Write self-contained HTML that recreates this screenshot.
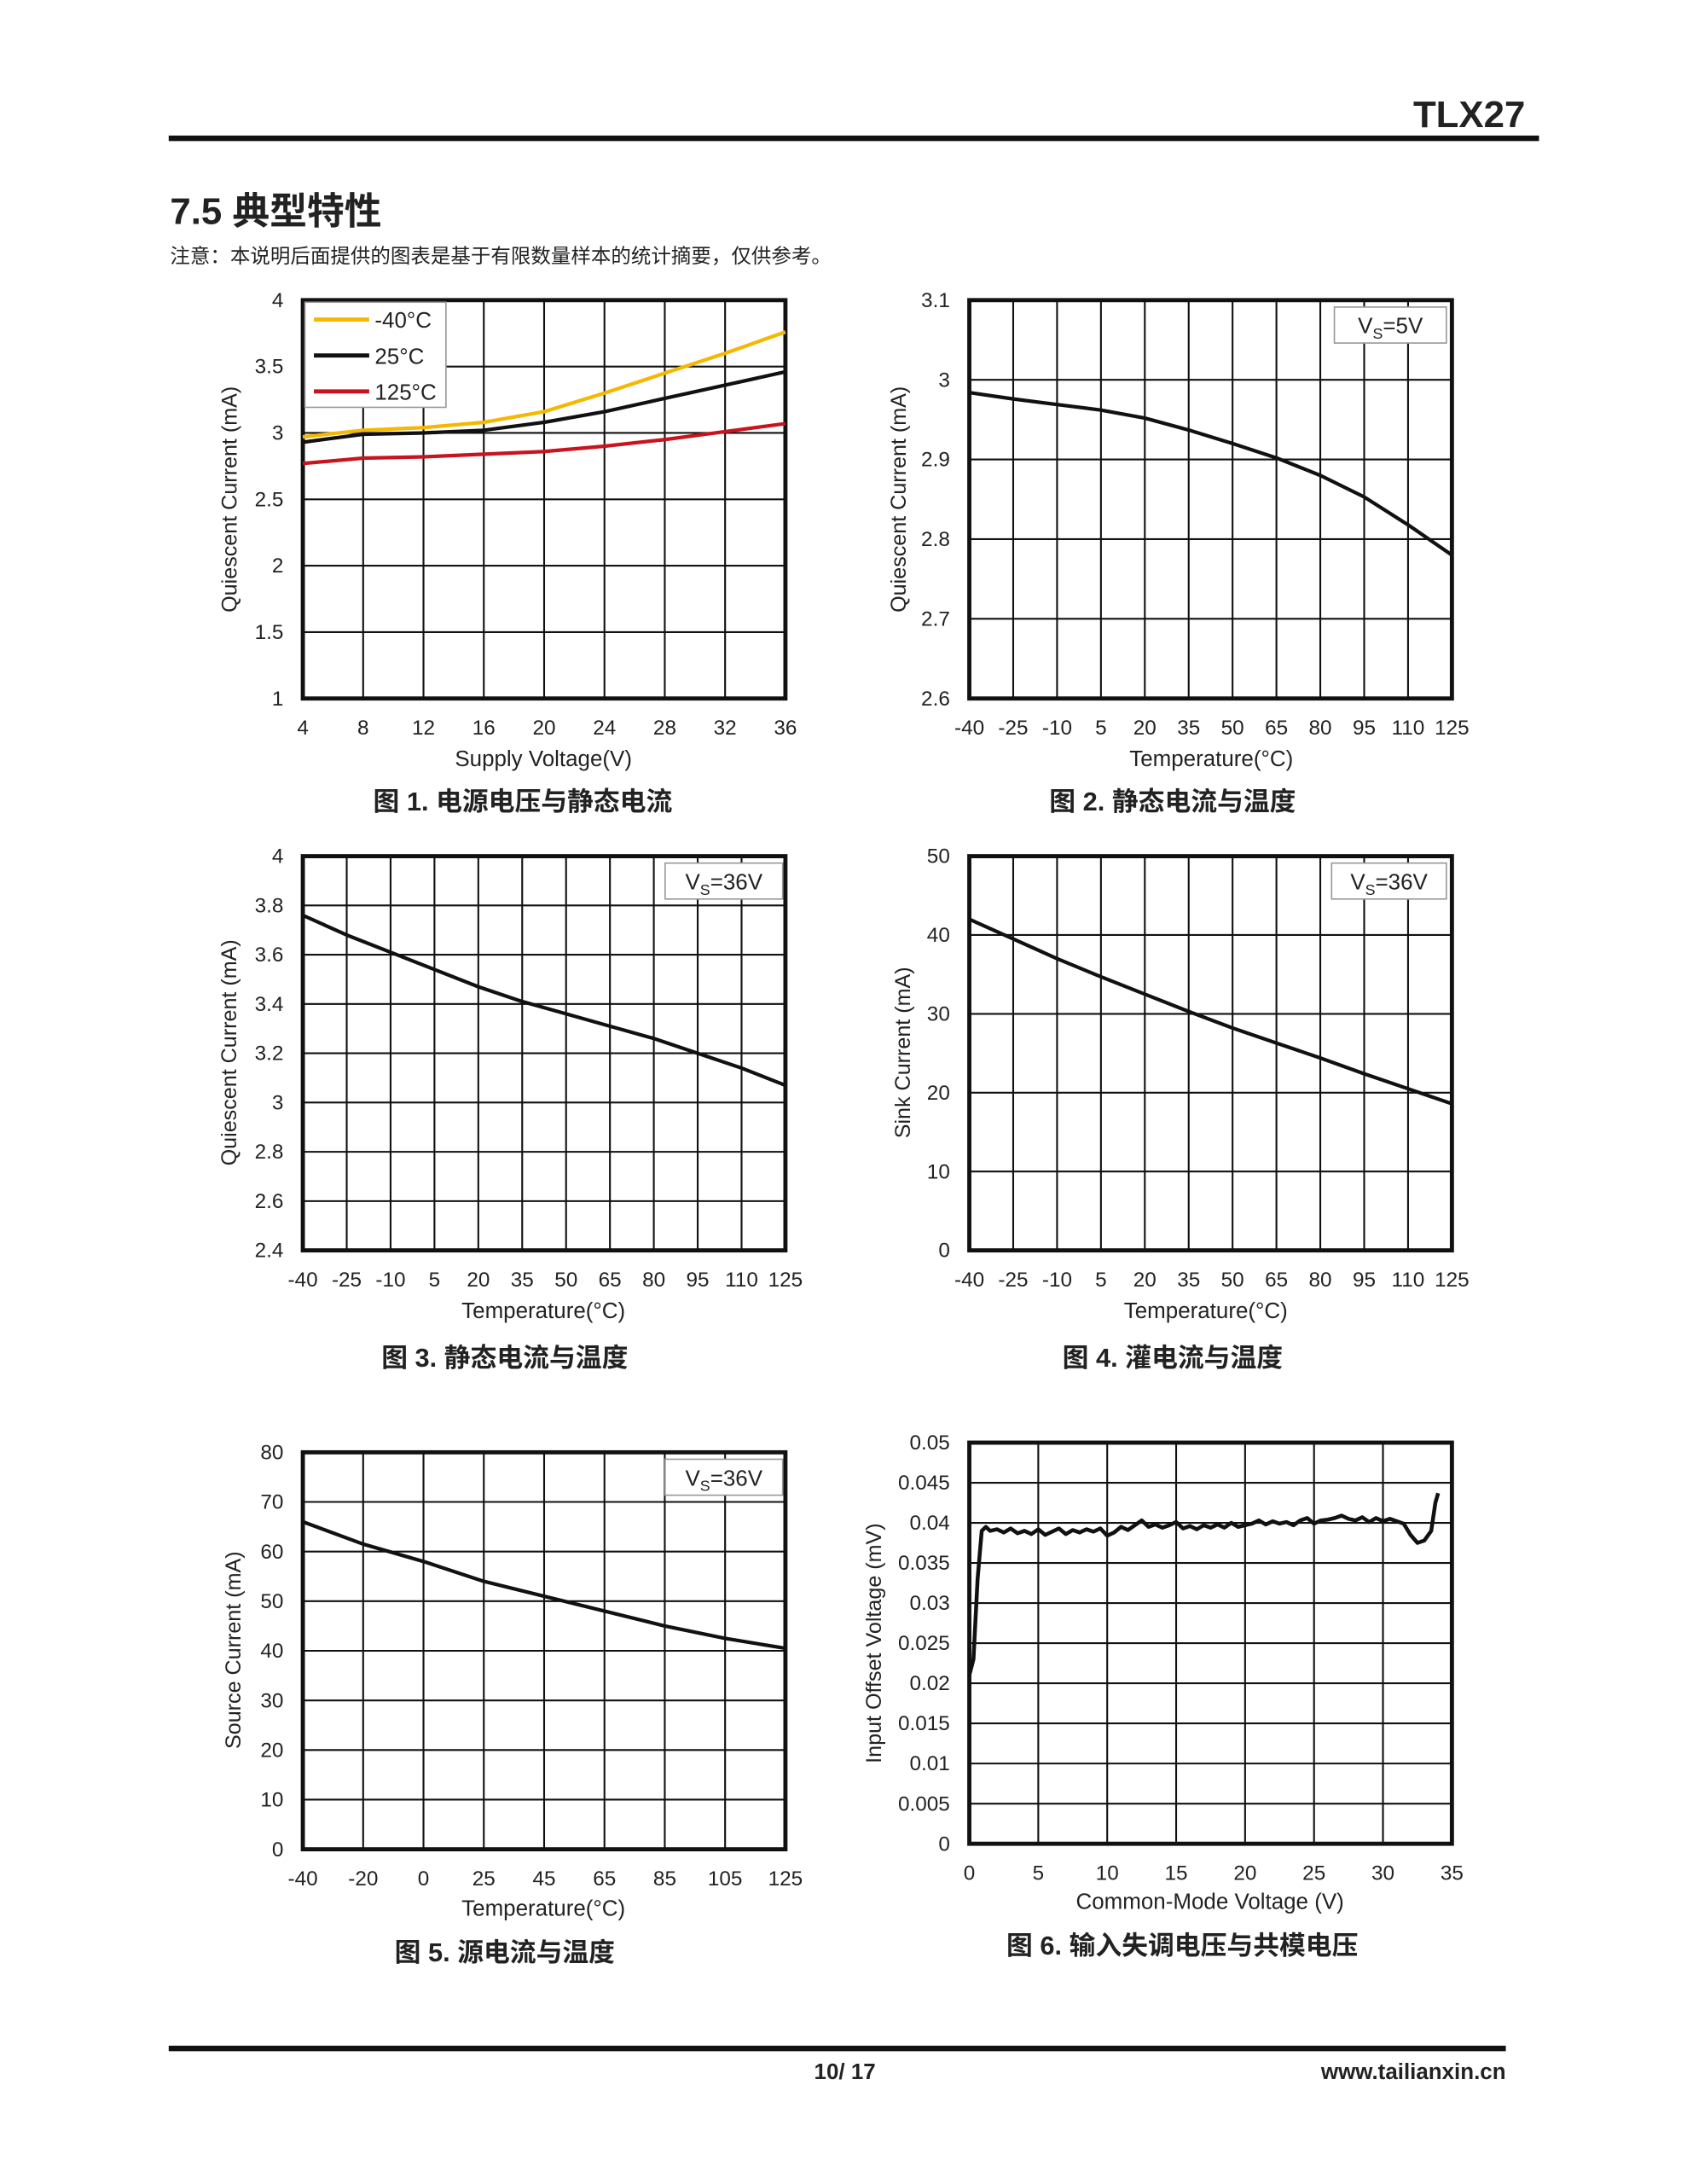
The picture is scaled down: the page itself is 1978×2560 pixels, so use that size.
<!DOCTYPE html>
<html><head><meta charset="utf-8"><style>
html,body{margin:0;padding:0;background:#fff;}
svg{display:block;}
text{font-family:"Liberation Sans","Noto Sans CJK SC",sans-serif;fill:#222;}
</style></head><body>
<svg id="page" xmlns="http://www.w3.org/2000/svg" width="1978" height="2560" viewBox="0 0 1220 1579">
<text x="1103" y="92" text-anchor="end" font-size="27" font-weight="bold" fill="#111">TLX27</text>
<rect x="122" y="98" width="991" height="4" fill="#111"/>
<text x="123" y="162" font-size="27" font-weight="bold" fill="#111">7.5 典型特性</text>
<text x="123" y="190" font-size="14.5" fill="#333">注意：本说明后面提供的图表是基于有限数量样本的统计摘要，仅供参考。</text>
<g id="charts"></g>
<rect x="122" y="1479" width="967" height="4" fill="#111"/>
<text x="611" y="1503" text-anchor="middle" font-size="16" font-weight="bold" fill="#111">10/ 17</text>
<text x="1089" y="1503" text-anchor="end" font-size="16" font-weight="bold" fill="#111">www.tailianxin.cn</text>
</svg>
<script>
// Chart 1
const c1X=[4,8,12,16,20,24,28,32,36];
const c1Neg40=[2.97,3.02,3.04,3.08,3.16,3.30,3.45,3.60,3.76];
const c1T25=[2.93,2.99,3.00,3.02,3.08,3.16,3.26,3.36,3.46];
const c1T125=[2.77,2.81,2.82,2.84,2.86,2.90,2.95,3.01,3.07];
const c1YTicks=[1,1.5,2,2.5,3,3.5,4];
// temperature axis shared
const tempX=[-40,-25,-10,5,20,35,50,65,80,95,110,125];
// Chart 2
const c2Y=[2.984,2.976,2.969,2.962,2.952,2.937,2.920,2.902,2.880,2.853,2.818,2.780];
const c2YTicks=["2.6","2.7","2.8","2.9","3","3.1"];
// Chart 3
const c3Y=[3.76,3.68,3.61,3.54,3.47,3.41,3.36,3.31,3.26,3.20,3.14,3.07];
const c3YTicks=["2.4","2.6","2.8","3","3.2","3.4","3.6","3.8","4"];
// Chart 4
const c4Y=[42,39.5,37,34.7,32.5,30.3,28.2,26.3,24.4,22.4,20.5,18.6];
const c4YTicks=["0","10","20","30","40","50"];
// Chart 5
const c5XLabels=["-40","-20","0","25","45","65","85","105","125"];
const c5Y=[66,61.5,58,54,51,48,45,42.5,40.5];
const c5YTicks=["0","10","20","30","40","50","60","70","80"];
// Chart 6
const c6X=[0,0.3,0.6,0.9,1.2,1.5,2,2.5,3,3.5,4,4.5,5,5.5,6,6.5,7,7.5,8,8.5,9,9.5,10,10.5,11,11.5,12,12.5,13,13.5,14,14.5,15,15.5,16,16.5,17,17.5,18,18.5,19,19.5,20,20.5,21,21.5,22,22.5,23,23.5,24,24.5,25,25.5,26,26.5,27,27.5,28,28.5,29,29.5,30,30.5,31,31.5,32,32.5,33,33.5,33.8,34];
const c6Y=[0.021,0.023,0.033,0.039,0.0395,0.039,0.0392,0.0388,0.0393,0.0387,0.039,0.0386,0.0392,0.0385,0.0389,0.0393,0.0386,0.0391,0.0388,0.0392,0.0389,0.0393,0.0384,0.0388,0.0395,0.0391,0.0397,0.0403,0.0395,0.0398,0.0394,0.0397,0.0401,0.0393,0.0396,0.0392,0.0397,0.0394,0.0398,0.0394,0.0400,0.0395,0.0397,0.0399,0.0403,0.0398,0.0402,0.0399,0.0401,0.0397,0.0403,0.0406,0.0399,0.0403,0.0404,0.0406,0.0409,0.0405,0.0403,0.0407,0.0401,0.0406,0.0402,0.0405,0.0402,0.0399,0.0385,0.0375,0.0378,0.039,0.0425,0.0437];
const c6YTicks=["0","0.005","0.01","0.015","0.02","0.025","0.03","0.035","0.04","0.045","0.05"];
const c6XTicks=["0","5","10","15","20","25","30","35"];

const NS="http://www.w3.org/2000/svg";
const root=document.getElementById('charts');
function mk(tag,attrs,parent){const e=document.createElementNS(NS,tag);for(const k in attrs)e.setAttribute(k,attrs[k]);(parent||root).appendChild(e);return e;}

function frame(L,T,R,B,nx,ny,name){
  const g=mk('g',{});
  
  
  for(let i=1;i<nx;i++){const x=L+(R-L)*i/nx;const l=mk('line',{x1:x,y1:T,x2:x,y2:B,stroke:'#111','stroke-width':1.3},g);
    
    }
  for(let i=1;i<ny;i++){const y=T+(B-T)*i/ny;const l=mk('line',{x1:L,y1:y,x2:R,y2:y,stroke:'#111','stroke-width':1.3},g);
    
    }
  const r=mk('rect',{x:L,y:T,width:R-L,height:B-T,fill:'none',stroke:'#111','stroke-width':3},g);
  
  
  return g;
}
function txt(x,y,s,size,anchor,name,extra){
  const t=mk('text',Object.assign({x:x,y:y,'font-size':size,'text-anchor':anchor||'middle'},extra||{}));
  t.textContent=s;
  
  
  return t;
}
function yTicks(L,T,B,labels){labels.forEach((s,i)=>{const y=B-(B-T)*i/(labels.length-1);txt(L-14,y+5,s,15,'end','y-tick-label');});}
function xTicks(L,R,B,labels){labels.forEach((s,i)=>{const x=L+(R-L)*i/(labels.length-1);txt(x,B+26,s,15,'middle','x-tick-label');});}
function yTitle(x,cy,s){txt(x,cy,s,15.5,'middle','y-axis-title',{transform:`rotate(-90 ${x} ${cy})`});}
function series(xs,ys,sx,sy,color,name,w){
  const d=xs.map((v,i)=>(i?'L':'M')+sx(v).toFixed(2)+','+sy(ys[i]).toFixed(2)).join(' ');
  const p=mk('path',{d:d,fill:'none',stroke:color,'stroke-width':w||2.6,'stroke-linejoin':'round'});
  
  
}
function vsBox(x,y,w,label){
  const g=mk('g',{});
  
  
  mk('rect',{x:x,y:y,width:w,height:26,fill:'#fff',stroke:'#999','stroke-width':1},g);
  const t=mk('text',{x:x+w/2,y:y+19,'font-size':16,'text-anchor':'middle'},g);
  t.innerHTML='V<tspan font-size="11" dy="4">S</tspan><tspan dy="-4">='+label+'</tspan>';
}

// ---- Chart 1
(function(){const L=219,T=217,R=568,B=505;
 frame(L,T,R,B,8,6,'chart1-plot');
 const sx=v=>L+(v-4)/32*(R-L), sy=v=>B-(v-1)/3*(B-T);
 yTicks(L,T,B,c1YTicks.map(String));xTicks(L,R,B,c1X.map(String));
 yTitle(171,361,'Quiescent Current (mA)');
 txt(393,554,'Supply Voltage(V)',16,'middle','x-axis-title');
 txt(378,586,'图 1. 电源电压与静态电流',19,'middle','figure-caption',{'font-weight':'bold',fill:'#111'});
 series(c1X,c1T125,sx,sy,'#c8141e','series-125c');
 series(c1X,c1T25,sx,sy,'#111','series-25c');
 series(c1X,c1Neg40,sx,sy,'#f5b800','series-neg40c');
 const g=mk('g',{});
 mk('rect',{x:L+1.5,y:T+1.5,width:102,height:76,fill:'#fff',stroke:'#999','stroke-width':1},g);
 [['-40°C','#f5b800'],['25°C','#111'],['125°C','#c8141e']].forEach((e,i)=>{const y=231+i*26;
  const l=mk('line',{x1:227,y1:y,x2:267,y2:y,stroke:e[1],'stroke-width':3},g);
  
  const t=mk('text',{x:271,y:y+6,'font-size':16},g);t.textContent=e[0];
  });
})();
// ---- Chart 2
(function(){const L=701,T=217,R=1050,B=505;
 frame(L,T,R,B,11,5,'chart2-plot');
 const sx=v=>L+(v+40)/165*(R-L), sy=v=>B-(v-2.6)/0.5*(B-T);
 yTicks(L,T,B,c2YTicks);xTicks(L,R,B,tempX.map(String));
 yTitle(655,361,'Quiescent Current (mA)');
 txt(876,554,'Temperature(°C)',16,'middle','x-axis-title');
 txt(848,586,'图 2. 静态电流与温度',19,'middle','figure-caption',{'font-weight':'bold',fill:'#111'});
 series(tempX,c2Y,sx,sy,'#111','series-quiescent');
 vsBox(965,222,81,'5V');
})();
// ---- Chart 3
(function(){const L=219,T=619,R=568,B=904;
 frame(L,T,R,B,11,8,'chart3-plot');
 const sx=v=>L+(v+40)/165*(R-L), sy=v=>B-(v-2.4)/1.6*(B-T);
 yTicks(L,T,B,c3YTicks);xTicks(L,R,B,tempX.map(String));
 yTitle(171,761,'Quiescent Current (mA)');
 txt(393,953,'Temperature(°C)',16,'middle','x-axis-title');
 txt(365,988,'图 3. 静态电流与温度',19,'middle','figure-caption',{'font-weight':'bold',fill:'#111'});
 series(tempX,c3Y,sx,sy,'#111','series-quiescent');
 vsBox(481,624,85,'36V');
})();
// ---- Chart 4
(function(){const L=701,T=619,R=1050,B=904;
 frame(L,T,R,B,11,5,'chart4-plot');
 const sx=v=>L+(v+40)/165*(R-L), sy=v=>B-v/50*(B-T);
 yTicks(L,T,B,c4YTicks);xTicks(L,R,B,tempX.map(String));
 yTitle(658,761,'Sink Current (mA)');
 txt(872,953,'Temperature(°C)',16,'middle','x-axis-title');
 txt(848,988,'图 4. 灌电流与温度',19,'middle','figure-caption',{'font-weight':'bold',fill:'#111'});
 series(tempX,c4Y,sx,sy,'#111','series-sink');
 vsBox(963,624,83,'36V');
})();
// ---- Chart 5
(function(){const L=219,T=1050,R=568,B=1337;
 frame(L,T,R,B,8,8,'chart5-plot');
 const idx=c5Y.map((v,i)=>i);
 const sx=i=>L+i/8*(R-L), sy=v=>B-v/80*(B-T);
 yTicks(L,T,B,c5YTicks);xTicks(L,R,B,c5XLabels);
 yTitle(174,1193,'Source Current (mA)');
 txt(393,1385,'Temperature(°C)',16,'middle','x-axis-title');
 txt(365,1418,'图 5. 源电流与温度',19,'middle','figure-caption',{'font-weight':'bold',fill:'#111'});
 series(idx,c5Y,sx,sy,'#111','series-source');
 vsBox(481,1055,85,'36V');
})();
// ---- Chart 6
(function(){const L=701,T=1043,R=1050,B=1333;
 frame(L,T,R,B,7,10,'chart6-plot');
 const sx=v=>L+v/35*(R-L), sy=v=>B-v/0.05*(B-T);
 c6YTicks.forEach((s,i)=>{const y=B-(B-T)*i/10;txt(L-14,y+5,s,15,'end','y-tick-label');});
 c6XTicks.forEach((s,i)=>{const x=L+(R-L)*i/7;txt(x,B+26,s,15,'middle','x-tick-label');});
 yTitle(637,1188,'Input Offset Voltage (mV)');
 txt(875,1380,'Common-Mode Voltage (V)',16,'middle','x-axis-title');
 txt(855,1413,'图 6. 输入失调电压与共模电压',19,'middle','figure-caption',{'font-weight':'bold',fill:'#111'});
 series(c6X,c6Y,sx,sy,'#111','series-offset',2.8);
})();
</script>
</body></html>
